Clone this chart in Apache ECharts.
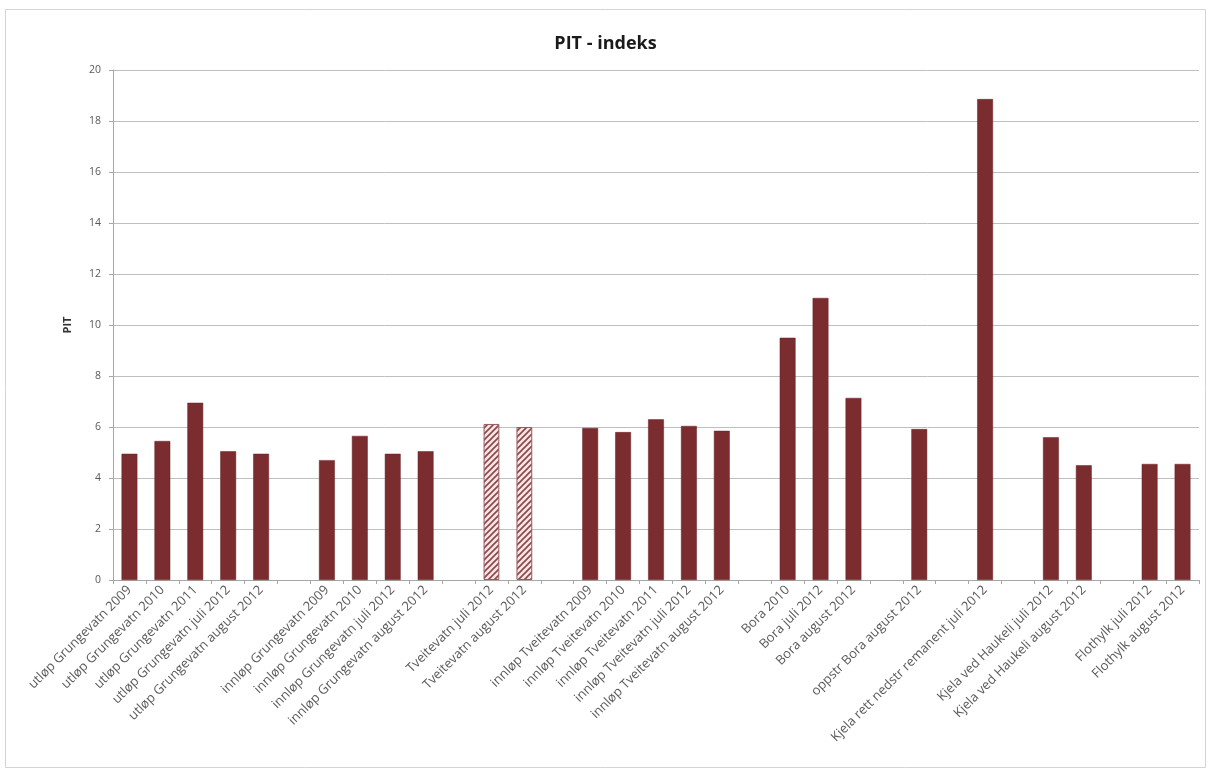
<!DOCTYPE html>
<html>
<head>
<meta charset="utf-8">
<script src="https://cdn.jsdelivr.net/npm/echarts@6/dist/echarts.min.js"></script>
<style>html,body{margin:0;padding:0;background:#fff}#c{width:1211px;height:770px}</style>
</head>
<body>
<div id="c"></div>
<script>
const categories = [
  'utløp Grungevatn 2009','utløp Grungevatn 2010','utløp Grungevatn 2011','utløp Grungevatn juli 2012','utløp Grungevatn august 2012',
  '',
  'innløp Grungevatn 2009','innløp Grungevatn 2010','innløp Grungevatn juli 2012','innløp Grungevatn august 2012',
  ' ',
  'Tveitevatn juli 2012','Tveitevatn august 2012',
  '  ',
  'innløp Tveitevatn 2009','innløp Tveitevatn 2010','innløp Tveitevatn 2011','innløp Tveitevatn juli 2012','innløp Tveitevatn august 2012',
  '   ',
  'Bora 2010','Bora juli 2012','Bora august 2012',
  '    ',
  'oppstr Bora august 2012',
  '     ',
  'Kjela rett nedstr remanent juli 2012',
  '      ',
  'Kjela ved Haukeli juli 2012','Kjela ved Haukeli august 2012',
  '       ',
  'Flothylk juli 2012','Flothylk august 2012'
];
const pitValues = [
  4.95, 5.45, 6.95, 5.05, 4.95,
  null,
  4.7, 5.65, 4.95, 5.05,
  null,
  6.12, 6.0,
  null,
  5.96, 5.8, 6.3, 6.04, 5.85,
  null,
  9.5, 11.06, 7.14,
  null,
  5.92,
  null,
  18.86,
  null,
  5.6, 4.5,
  null,
  4.55, 4.55
];
const hatchedCategories = ['Tveitevatn juli 2012','Tveitevatn august 2012'];
const yTicks = [0, 2, 4, 6, 8, 10, 12, 14, 16, 18, 20];

const BAR = '#7b2c2f';
// hatch pattern
const pc = document.createElement('canvas');
pc.width = 6; pc.height = 6;
const g = pc.getContext('2d');
g.fillStyle = '#f6e6e6'; g.fillRect(0,0,6,6);
g.strokeStyle = '#8d4548'; g.lineWidth = 1.6;
g.beginPath();
g.moveTo(-1,7); g.lineTo(7,-1);
g.moveTo(-4,4); g.lineTo(4,-4);
g.moveTo(2,10); g.lineTo(10,2);
g.stroke();

const data = pitValues.map((v, i) => {
  if (hatchedCategories.includes(categories[i])) {
    return { value: v, itemStyle: { color: { image: pc, repeat: 'repeat' }, borderColor: '#9a5a5d', borderWidth: 1 } };
  }
  return v;
});

const chart = echarts.init(document.getElementById('c'), null, { renderer: 'canvas' });
chart.setOption({
  animation: false,
  backgroundColor: '#fff',
  graphic: [{
    type: 'rect', shape: { x: 5.5, y: 9.5, width: 1200, height: 758 },
    style: { fill: 'none', stroke: '#d4d4d4', lineWidth: 1 }, z: -1
  }],
  title: {
    text: 'PIT - indeks', left: 'center', top: 30,
    textStyle: { fontFamily: 'Open Sans', fontWeight: 'bold', fontSize: 18, color: '#1a1a1a' }
  },
  grid: { left: 113, right: 12, top: 70, bottom: 190, containLabel: false },
  xAxis: {
    type: 'category', data: categories, boundaryGap: true,
    axisLine: { lineStyle: { color: '#a6a6a6' } },
    axisTick: { show: true, alignWithLabel: false, interval: 0, length: 4, lineStyle: { color: '#a6a6a6' } },
    axisLabel: { interval: 0, rotate: 45, fontSize: 13, color: '#595959', fontFamily: 'Open Sans', margin: 8 }
  },
  yAxis: {
    type: 'value', min: 0, max: 20, interval: 2,
    name: 'PIT', nameLocation: 'middle', nameGap: 40, nameRotate: 90,
    nameTextStyle: { fontFamily: 'Open Sans', fontWeight: 'bold', fontSize: 11, color: '#333' },
    axisLine: { show: true, lineStyle: { color: '#a6a6a6' } },
    axisTick: { show: true, length: 4, lineStyle: { color: '#a6a6a6' } },
    axisLabel: { fontSize: 10.5, color: '#595959', fontFamily: 'Open Sans', margin: 12,
      formatter: v => yTicks.includes(v) ? String(v) : '' },
    splitLine: { lineStyle: { color: '#bfbfbf', width: 1 } }
  },
  series: [{
    type: 'bar', data: data, barWidth: '48%',
    itemStyle: { color: BAR, borderColor: '#6a2326', borderWidth: 0.5 }
  }]
});
</script>
</body>
</html>
